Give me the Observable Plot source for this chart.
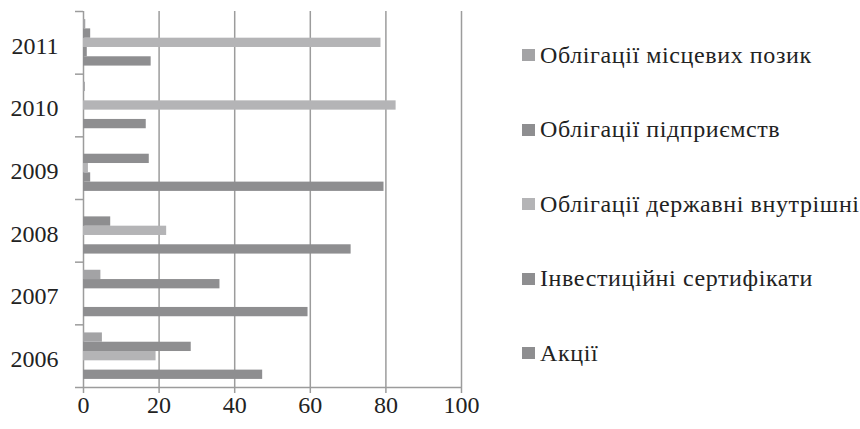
<!DOCTYPE html>
<html>
<head>
<meta charset="utf-8">
<script src="https://cdn.jsdelivr.net/npm/d3@7"></script>
<script src="https://cdn.jsdelivr.net/npm/@observablehq/plot@0.6"></script>
<style>
  body { margin: 0; background: #fff; }
  #wrap { position: relative; width: 860px; height: 429px; overflow: hidden; }
  #chart { position: absolute; left: 0; top: 0; }
  #legend { position: absolute; left: 522px; top: 18px; font-family: 'Liberation Serif', serif; font-size: 24px; color: #222; letter-spacing: 0.6px; }
  .li { height: 74.5px; display: flex; align-items: center; white-space: nowrap; }
  .sw { width: 13px; height: 12px; margin-right: 5px; flex: none; }
</style>
</head>
<body>
<div id="wrap"><div id="chart"></div><div id="legend"></div></div>
<script>
// Data
const years = [2006, 2007, 2008, 2009, 2010, 2011];
const series = ["Акції", "Інвестиційні сертифікати", "Облігації державні внутрішні", "Облігації підприємств", "Облігації місцевих позик"];
const akcii      = [47.4, 59.4, 70.8, 79.5, 16.6, 17.9];
const invSert    = [0,    0,    0,    1.9,  0,    1.0];
const oblDerzh   = [19.2, 0,    22.0, 1.3,  82.7, 78.7];
const oblPidpr   = [28.5, 36.1, 7.2,  17.4, 0,    1.9];
const oblMists   = [5.0,  4.6,  0,    0,    0.5,  0.6];
const xTicks = [0, 20, 40, 60, 80, 100];
const colors = ["#8e8e90", "#8e8e90", "#b4b4b6", "#8e8e90", "#a3a3a5"];

const valuesBySeries = [akcii, invSert, oblDerzh, oblPidpr, oblMists];
const n = series.length;
const pad = 0.87;               // outer padding (in bar units) within a year band
const slot = 1 / (n + 2 * pad);
const rows = [];
years.forEach((yr, i) => {
  valuesBySeries.forEach((vals, k) => {
    const y1 = yr - 0.5 + (pad + k) * slot;
    rows.push({year: yr, series: series[k], value: vals[i], y1, y2: y1 + slot});
  });
});
const yDomain = [years[0] - 0.5, years[years.length - 1] + 0.5];
const boundaries = years.map(y => y - 0.5).concat([yDomain[1]]);
const gridColor = "#9c9c9c";

const chart = Plot.plot({
  width: 500,
  height: 429,
  marginLeft: 83,
  marginRight: 39,
  marginTop: 11,
  marginBottom: 42,
  style: "font-family: 'Liberation Serif', serif; font-size: 24px; color: #222; background: #fff;",
  x: {domain: [0, 100]},
  y: {domain: yDomain},
  color: {domain: series, range: colors},
  marks: [
    Plot.gridX(xTicks, {stroke: gridColor, strokeOpacity: 1, strokeWidth: 1.5}),
    Plot.ruleY([yDomain[0]], {stroke: gridColor, strokeWidth: 1.5}),
    Plot.rect(rows, {x1: 0, x2: "value", y1: "y1", y2: "y2", fill: "series"}),
    Plot.axisX(xTicks, {tickSize: 6, tickPadding: 2, stroke: gridColor, strokeWidth: 1.5, label: null, fill: "#222"}),
    Plot.axisY(boundaries, {tickSize: 8, tickFormat: () => "", stroke: gridColor, strokeWidth: 1.5, label: null}),
    Plot.axisY(years, {tickSize: 0, tickPadding: 25, tickFormat: d => String(d), label: null, fill: "#222", dy: 3})
  ]
});
document.getElementById("chart").appendChild(chart);

// Legend (top entry = last series)
const legend = d3.select("#legend");
series.slice().reverse().forEach((s) => {
  const k = series.indexOf(s);
  const row = legend.append("div").attr("class", "li");
  row.append("div").attr("class", "sw").style("background", colors[k]);
  row.append("span").text(s);
});
</script>
</body>
</html>
